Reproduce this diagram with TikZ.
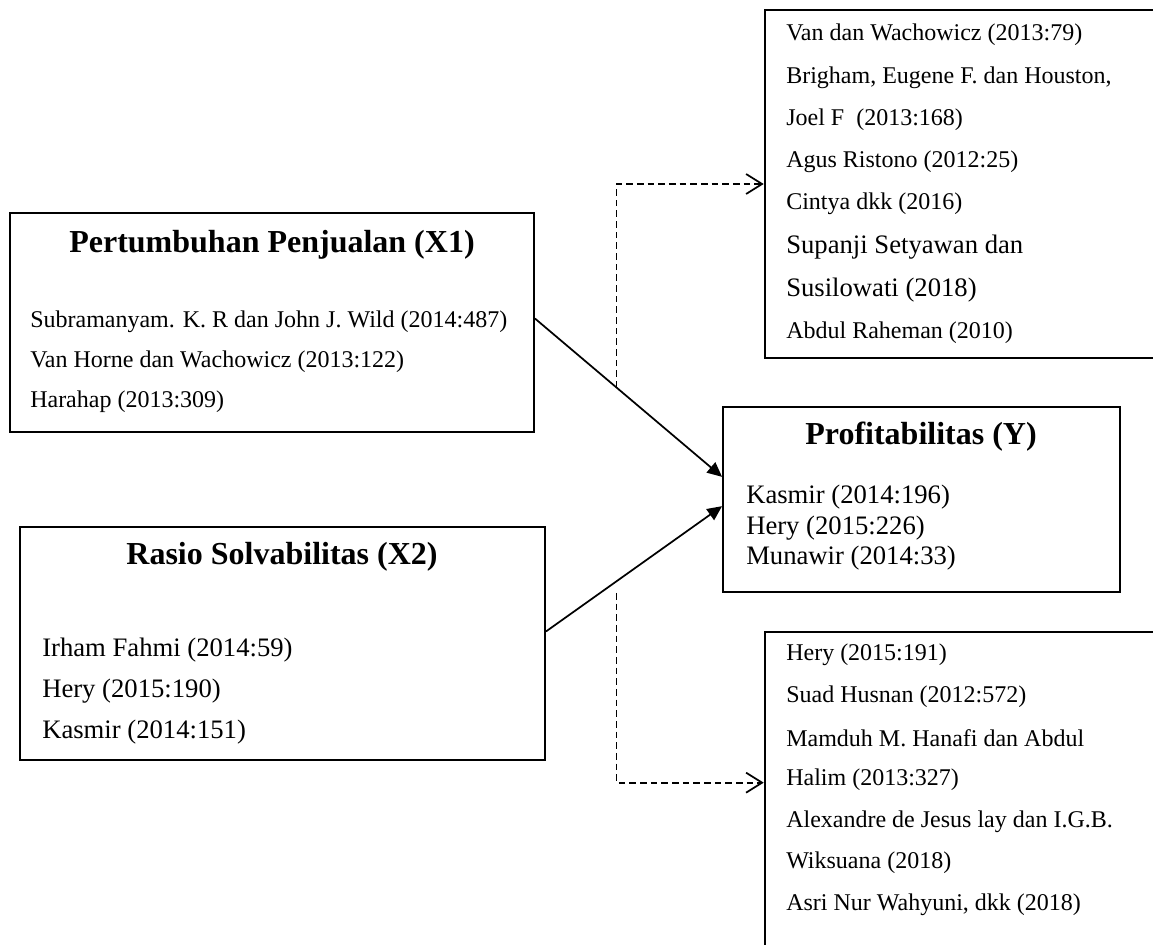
\documentclass[tikz,border=0pt]{standalone}
\usepackage{fontspec}
\setmainfont{Liberation Serif}
\usetikzlibrary{arrows.meta,fit}

\begin{document}
\begin{tikzpicture}[x=0.75pt, y=-0.75pt,
    box/.style={draw, line width=1.4pt, inner sep=0pt},
    openbox/.style={draw, line width=1.9pt, inner sep=0pt},
    title/.style={inner sep=0pt, font=\fontsize{24}{28}\selectfont\bfseries},
    ref/.style={anchor=west, inner sep=0pt, font=\fontsize{18}{22}\selectfont},
    bigref/.style={ref, font=\fontsize{20}{24}\selectfont},
    arrow/.style={-{Triangle[length=11pt, width=10pt]}, line width=1.3pt},
    dashline/.style={-{Straight Barb[length=12pt, width=15pt]}, line width=1.3pt, dash pattern=on 5pt off 3pt}
]
\clip (0,0) rectangle (1153,945);

% boxes
\node[box, fit={(10,213) (534,432)}] (x1) {};
\node[box, fit={(20,527) (545,760)}] (x2) {};
\node[box, fit={(723,407) (1120,592)}] (y) {};
\node[openbox, fit={(765,10) (1200,358)}] (teori1) {};
\node[openbox, fit={(765,632) (1200,1000)}] (teori2) {};

% titles
\node[title] (x1t) at (272,245) {Pertumbuhan Penjualan (X1)};
\node[title] (x2t) at (282,557) {Rasio Solvabilitas (X2)};
\node[title] (yt) at (921,437) {Profitabilitas (Y)};

% references X1
\node[ref] (x1a) at (30,322) {Subramanyam. K. R dan John J. Wild (2014:487)};
\node[ref] (x1b) at (30,362) {Van Horne dan Wachowicz (2013:122)};
\node[ref] (x1c) at (30,402) {Harahap (2013:309)};

% references X2
\node[bigref] (x2a) at (42,650) {Irham Fahmi (2014:59)};
\node[bigref] (x2b) at (42,691) {Hery (2015:190)};
\node[bigref] (x2c) at (42,732) {Kasmir (2014:151)};

% references Y
\node[bigref] (ya) at (746,497) {Kasmir (2014:196)};
\node[bigref] (yb) at (746,528) {Hery (2015:226)};
\node[bigref] (yc) at (746,558) {Munawir (2014:33)};

% references top right
\node[ref] (t1a) at (786,35) {Van dan Wachowicz (2013:79)};
\node[ref] (t1b) at (786,78) {Brigham, Eugene F. dan Houston,};
\node[ref] (t1c) at (786,120) {Joel F\ \ (2013:168)};
\node[ref] (t1d) at (786,162) {Agus Ristono (2012:25)};
\node[ref] (t1e) at (786,204) {Cintya dkk (2016)};
\node[bigref] (t1f) at (786,247) {Supanji Setyawan dan};
\node[bigref] (t1g) at (786,290) {Susilowati (2018)};
\node[ref] (t1h) at (786,333) {Abdul Raheman (2010)};

% references bottom right
\node[ref] (t2a) at (786,655) {Hery (2015:191)};
\node[ref] (t2b) at (786,697) {Suad Husnan (2012:572)};
\node[ref] (t2c) at (786,738) {Mamduh M. Hanafi dan Abdul};
\node[ref] (t2d) at (786,780) {Halim (2013:327)};
\node[ref] (t2e) at (786,822) {Alexandre de Jesus lay dan I.G.B.};
\node[ref] (t2f) at (786,863) {Wiksuana (2018)};
\node[ref] (t2g) at (786,905) {Asri Nur Wahyuni, dkk (2018)};

% connectors
\draw[arrow] ([yshift=3pt]x1.east) -- coordinate[pos=0.436] (j1) ([yshift=17pt]y.west);
\draw[arrow] ([yshift=9pt]x2.east) -- ([yshift=-5pt]y.west);
\draw[dashline] (j1) |- (teori1.west);
\draw[dashline] (j1 |- y.south) |- ([yshift=25pt]teori2.west);

\end{tikzpicture}
\end{document}
